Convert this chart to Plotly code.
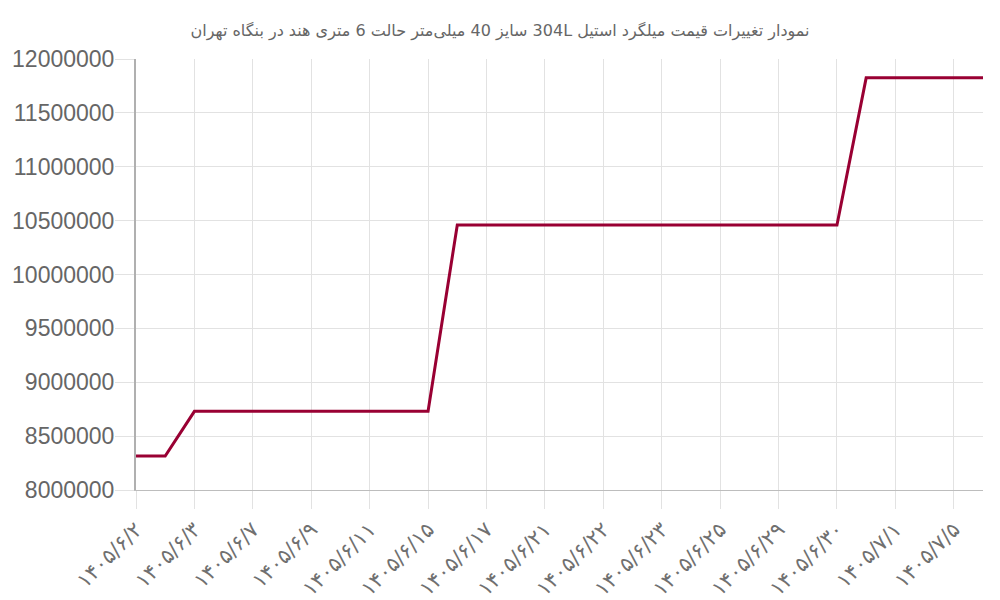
import plotly.graph_objects as go

# dates (Persian calendar); only every other one is shown as a tick label
dates = [
    "۱۴۰۵/۶/۲", "۱۴۰۵/۶/۲", "۱۴۰۵/۶/۳", "۱۴۰۵/۶/۵", "۱۴۰۵/۶/۷",
    "۱۴۰۵/۶/۸", "۱۴۰۵/۶/۹", "۱۴۰۵/۶/۱۰", "۱۴۰۵/۶/۱۱", "۱۴۰۵/۶/۱۲",
    "۱۴۰۵/۶/۱۵", "۱۴۰۵/۶/۱۶", "۱۴۰۵/۶/۱۷", "۱۴۰۵/۶/۱۸", "۱۴۰۵/۶/۲۱",
    "۱۴۰۵/۶/۲۱", "۱۴۰۵/۶/۲۲", "۱۴۰۵/۶/۲۲", "۱۴۰۵/۶/۲۳", "۱۴۰۵/۶/۲۴",
    "۱۴۰۵/۶/۲۵", "۱۴۰۵/۶/۲۶", "۱۴۰۵/۶/۲۹", "۱۴۰۵/۶/۲۹", "۱۴۰۵/۶/۳۰",
    "۱۴۰۵/۶/۳۱", "۱۴۰۵/۷/۱", "۱۴۰۵/۷/۲", "۱۴۰۵/۷/۵", "۱۴۰۵/۷/۶",
]

# price per kg (rial)
prices = [
    8315000, 8315000, 8730000, 8730000, 8730000,
    8730000, 8730000, 8730000, 8730000, 8730000,
    8730000, 10460000, 10460000, 10460000, 10460000,
    10460000, 10460000, 10460000, 10460000, 10460000,
    10460000, 10460000, 10460000, 10460000, 10460000,
    11825000, 11825000, 11825000, 11825000, 11825000,
]

y_ticks = [8000000, 8500000, 9000000, 9500000, 10000000,
           10500000, 11000000, 11500000, 12000000]

title = "نمودار تغییرات قیمت میلگرد استیل 304L سایز 40 میلی‌متر حالت 6 متری هند در بنگاه تهران"

x_idx = list(range(len(dates)))

# page body has an 8px margin, so shift the plot area back by that much
OFF = 8

fig = go.Figure()
fig.add_trace(go.Scatter(
    x=x_idx, y=prices,
    mode='lines',
    line=dict(color='#990033', width=3),
    hoverinfo='skip',
    showlegend=False,
))

fig.update_layout(
    width=1000, height=600,
    margin=dict(l=136 - OFF, r=17 + OFF, t=59 - OFF, b=110 + OFF),
    paper_bgcolor='white',
    plot_bgcolor='white',
    font=dict(family='Liberation Sans, DejaVu Sans, Arial', color='#666666'),
    title=dict(
        text='\u202b' + title + '\u202c', x=(500 - OFF) / 1000, xanchor='center',
        y=1 - (30 - OFF) / 600, yref='container', yanchor='middle',
        font=dict(size=16, color='#666666', family='DejaVu Sans, Liberation Sans'),
    ),
    xaxis=dict(
        range=[0, len(dates) - 1],
        tickmode='array',
        tickvals=x_idx[::2],
        ticktext=dates[::2],
        tickangle=-45,
        tickfont=dict(size=21, color='#707070', family='DejaVu Sans'),
        showgrid=True, gridcolor='#e2e2e2', gridwidth=1,
        ticks='outside', ticklen=18, tickcolor='#e2e2e2',
        showline=True, linecolor='#bdbdbd', linewidth=1,
        zeroline=False, fixedrange=True, automargin=False,
    ),
    yaxis=dict(
        range=[8000000, 12000000],
        tickmode='array',
        tickvals=y_ticks,
        ticktext=[str(v) for v in y_ticks],
        tickfont=dict(size=23, color='#666666'),
        showgrid=True, gridcolor='#e2e2e2', gridwidth=1,
        ticks='outside', ticklen=19, tickcolor='#e2e2e2',
        ticklabelstandoff=-4,
        showline=True, linecolor='#b0b0b0', linewidth=2,
        zeroline=False, fixedrange=True, automargin=False,
    ),
)

fig.write_html("out.html")
